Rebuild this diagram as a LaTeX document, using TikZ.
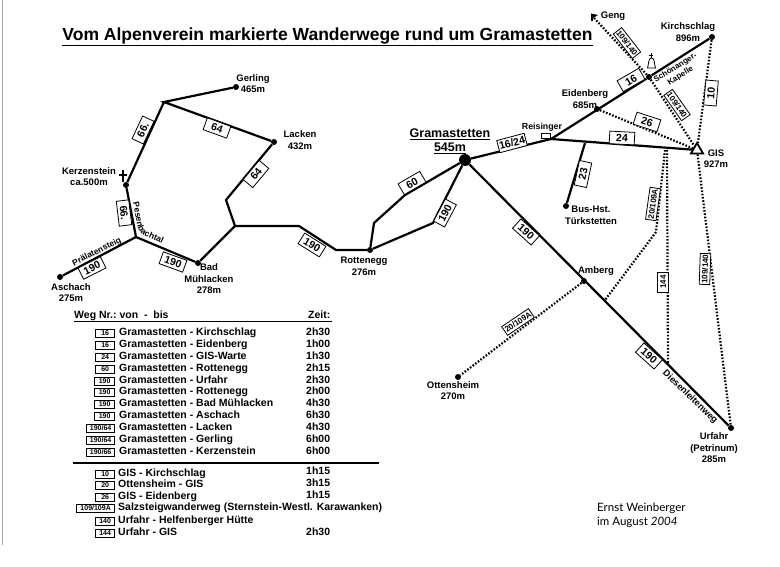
\documentclass[tikz,border=0pt]{standalone}
\usepackage{fontspec}
\setmainfont{Liberation Sans}
\newfontfamily\signfont{Lato}
\usetikzlibrary{shapes.geometric}
\usetikzlibrary{decorations.text}

\tikzset{
  stop/.style={circle, fill=black, inner sep=0pt, minimum size=6pt},
  trail/.style={line width=2.2pt},
  marked/.style={line width=2.2pt, dash pattern=on 1.6pt off 1.7pt},
  wegbox/.style={draw, line width=0.8pt, fill=white, inner sep=1pt, minimum width=25pt, minimum height=12.5pt,
    font=\fontsize{10.5}{11}\selectfont\bfseries},
  thinbox/.style={wegbox, minimum width=20pt, minimum height=10.5pt, inner sep=1pt, font=\fontsize{8}{9}\selectfont\bfseries},
  place/.style={align=center, inner sep=0pt, font=\fontsize{9.5}{11.5}\selectfont\bfseries},
  tabnum/.style={draw, line width=0.7pt, anchor=east, inner sep=0pt, minimum height=8pt,
    font=\fontsize{7}{8}\selectfont\bfseries},
  tabtxt/.style={anchor=west, inner sep=0pt, text height=7.5pt, text depth=2pt,
    font=\fontsize{10.5}{11}\selectfont\bfseries}
}

\begin{document}
\begin{tikzpicture}[x=1pt, y=-1pt]

  \useasboundingbox (0,0) rectangle (780,567);
  \draw [gray!70, line width=1pt] (2,0) -- (2,545);

  \node [inner sep=0pt, font=\fontsize{17.5}{20}\selectfont\bfseries] (title) at (327.5,37)
        {\underline{Vom Alpenverein markierte Wanderwege rund um Gramastetten}};

  \node [stop, minimum size=12pt] (gramastetten) at (465,160) {};
  \node [stop] (gerling) at (236,87) {};
  \node [stop] (lacken) at (274,142) {};
  \node [stop] (kerzenstein) at (126,185) {};
  \node [stop] (aschach) at (60,277) {};
  \node [stop] (muehlacken) at (198,263) {};
  \node [stop] (rottenegg) at (370,250) {};
  \node [stop] (eidenberg) at (597,109) {};
  \node [stop] (kapelle) at (649,77) {};
  \node [stop] (kirchschlag) at (712,37) {};
  \node [stop] (bus) at (566,206) {};
  \node [stop] (amberg) at (584,281) {};
  \node [stop] (ottensheim) at (458,377) {};
  \node [stop] (urfahr) at (731,428) {};
  \node [draw, fill=white, line width=1.8pt, regular polygon, regular polygon sides=3,
         inner sep=0pt, minimum size=14pt] (gis) at (697,150) {};

  \coordinate (reisinger) at (551,139);
  \coordinate (abzweig) at (585,143);
  \coordinate (gabel) at (667,150);
  \coordinate (gabelb) at (665,150);
  \coordinate (knick) at (656,232);
  \coordinate (ambergb) at (605,300);
  \coordinate (diesen) at (668,363);
  \coordinate (geng) at (594,18);
  \coordinate (rotta) at (405,195);
  \coordinate (rottb) at (374,223);
  \coordinate (rottc) at (433,223);
  \coordinate (westa) at (336,250);
  \coordinate (westb) at (299,226);
  \coordinate (westc) at (235,226);
  \coordinate (westd) at (226,200);
  \coordinate (oben) at (164,102);
  \coordinate (unten) at (136,237);

  \draw [marked] (geng) -- (kapelle) -- (gis);
  \draw [marked] (eidenberg) -- (gis);
  \draw [marked] (kirchschlag) -- (gis);
  \draw [marked] (gis) -- (urfahr);
  \draw [marked] (gabel) -- (diesen);
  \draw [marked] (gabelb) -- (knick) -- (ambergb);
  \draw [marked] (amberg) -- (ottensheim);

  \draw [trail] (gramastetten) -- (reisinger) -- (kapelle) -- (kirchschlag);
  \draw [trail] (reisinger) -- (gis);
  \draw [trail] (abzweig) -- (bus);
  \draw [trail] (gramastetten) -- (urfahr);
  \draw [trail] (gramastetten) -- (rotta) -- (rottb) -- (rottenegg);
  \draw [trail] (gramastetten) -- (rottc) -- (rottenegg);
  \draw [trail] (rottenegg) -- (westa) -- (westb) -- (westc) -- (muehlacken);
  \draw [trail] (westc) -- (westd) -- (lacken) -- (oben) -- (gerling);
  \draw [trail] (oben) -- (kerzenstein) -- (unten) -- (muehlacken);
  \draw [trail] (unten) -- (aschach);

  \draw [line width=1.8pt] (123,170) -- (123,182) (119,175) -- (127,175);
  \draw [line width=1.3pt] (592,21) -- (592,14);
  \fill (591,13.5) -- (598,15) -- (593,18) -- cycle;
  \draw [line width=0.8pt] (651,53) -- (651,58) (649,55) -- (653,55);
  \draw [line width=0.8pt, fill=white] (647.5,68) -- (655.5,68) .. controls (654,64) and (655,58) .. (651.5,58)
        .. controls (648,58) and (649,64) .. (647.5,68) -- cycle;
  \draw [line width=0.7pt, fill=white] (541.5,133) rectangle (550.5,138);

  \node [wegbox, rotate=65] (w66a) at (143,130) {66.};
  \node [wegbox, rotate=-20] (w64a) at (217,128) {64};
  \node [wegbox, rotate=50] (w64b) at (256,174) {64};
  \node [wegbox, rotate=-83] (w66b) at (124,213) {66.};
  \node [wegbox, rotate=27] (w190a) at (92,268) {190};
  \node [wegbox, rotate=-20] (w190b) at (173,262) {190};
  \node [wegbox, rotate=-32] (w190c) at (312,245) {190};
  \node [wegbox, rotate=62] (w190d) at (445,213) {190};
  \node [wegbox, rotate=30] (w60) at (412,183) {60};
  \node [wegbox, rotate=-42] (w190e) at (526,232) {190};
  \node [wegbox, rotate=-42] (w190f) at (649,356) {190};
  \node [wegbox, rotate=15] (w1624) at (512,143) {16/24};
  \node [wegbox, rotate=30] (w16) at (631,80) {16};
  \node [wegbox, rotate=-18] (w26) at (647,122) {26};
  \node [wegbox, rotate=-3] (w24) at (622,138) {24};
  \node [wegbox, rotate=78] (w23) at (583,174) {23};
  \node [wegbox, rotate=85] (w10) at (711,93) {10};
  \node [thinbox, rotate=-52] (w109a) at (627,43) {109/140};
  \node [thinbox, rotate=-55] (w109b) at (677,105) {109/140};
  \node [thinbox, rotate=88] (w109c) at (705,269) {109/140};
  \node [thinbox, rotate=82] (w20a) at (653,204) {20/109A};
  \node [thinbox, rotate=90] (w144) at (663,282) {144};
  \node [thinbox, rotate=34] (w20b) at (518,322) {20/109A};

  \node [place] (lgerling) at (253,83.5) {Gerling\\465m};
  \node [place] (llacken) at (300,140) {Lacken\\432m};
  \node [place] (lkerzen) at (89,176.5) {Kerzenstein\\ca.500m};
  \node [place] (laschach) at (71,292.5) {Aschach\\275m};
  \node [place] (lmuehl) at (209,279) {Bad\\Mühlacken\\278m};
  \node [place] (lrott) at (364,266.5) {Rottenegg\\276m};
  \node [place, font=\fontsize{8.8}{10}\selectfont\bfseries] (lreis) at (542,127) {Reisinger};
  \node [place] (leiden) at (585,99) {Eidenberg\\685m};
  \node [place] (lkirch) at (688,32) {Kirchschlag\\896m};
  \node [place] (lgeng) at (613,16) {Geng};
  \node [place] (lgis) at (716,158.5) {GIS\\927m};
  \node [place] (lbus) at (591,215.5) {Bus-Hst.\\Türkstetten};
  \node [place] (lamberg) at (596,271) {Amberg};
  \node [place] (lotten) at (453,390.5) {Ottensheim\\270m};
  \node [place] (lurfahr) at (714,448) {Urfahr\\(Petrinum)\\285m};
  \node [place, font=\fontsize{12.5}{14}\selectfont\bfseries] (lgrama) at (450,141)
        {\underline{Gramastetten}\\\underline{545m}};
  \node [place, font=\fontsize{8}{9.5}\selectfont\bfseries, rotate=32] (lkapelle) at (678,72)
        {Schönanger-\\Kapelle};
  \node [place, font=\fontsize{8.5}{10}\selectfont\bfseries, rotate=27] (lpraelat) at (97,252) {Prälatensteig};
  \node [place, font=\fontsize{9.2}{10}\selectfont\bfseries, rotate=-44] (ldiesen) at (690,397) {Diesenleitenweg};
  \path [decorate, decoration={text along path, text align=left,
        text={|\fontsize{8.5}{10}\selectfont\bfseries|Pesenbachtal}}]
        (133,203) -- (137,224) .. controls (138.5,231) and (140,233) .. (146,236) -- (172,248);

  \node [tabtxt] (hweg) at (74,316) {Weg Nr.:\ von\ \ -\ \ bis};
  \node [tabtxt] (hzeit) at (308,316) {Zeit:};
  \draw [line width=1pt] (74,321.5) -- (332,321.5);

  \node [tabnum, minimum width=19pt] (n1) at (115,333) {16};
  \node [tabtxt] (t1) at (119,333) {Gramastetten - Kirchschlag};
  \node [tabtxt] (z1) at (306,333) {2h30};
  \node [tabnum, minimum width=19pt] (n2) at (115,345) {16};
  \node [tabtxt] (t2) at (119,345) {Gramastetten - Eidenberg};
  \node [tabtxt] (z2) at (306,345) {1h00};
  \node [tabnum, minimum width=19pt] (n3) at (115,357) {24};
  \node [tabtxt] (t3) at (119,357) {Gramastetten - GIS-Warte};
  \node [tabtxt] (z3) at (306,357) {1h30};
  \node [tabnum, minimum width=19pt] (n4) at (115,369) {60};
  \node [tabtxt] (t4) at (119,369) {Gramastetten - Rottenegg};
  \node [tabtxt] (z4) at (306,369) {2h15};
  \node [tabnum, minimum width=20pt] (n5) at (115,381) {190};
  \node [tabtxt] (t5) at (119,381) {Gramastetten - Urfahr};
  \node [tabtxt] (z5) at (306,381) {2h30};
  \node [tabnum, minimum width=20pt] (n6) at (115,392) {190};
  \node [tabtxt] (t6) at (119,392) {Gramastetten - Rottenegg};
  \node [tabtxt] (z6) at (306,392) {2h00};
  \node [tabnum, minimum width=20pt] (n7) at (115,404) {190};
  \node [tabtxt] (t7) at (119,404) {Gramastetten - Bad Mühlacken};
  \node [tabtxt] (z7) at (306,404) {4h30};
  \node [tabnum, minimum width=20pt] (n8) at (115,416) {190};
  \node [tabtxt] (t8) at (119,416) {Gramastetten - Aschach};
  \node [tabtxt] (z8) at (306,416) {6h30};
  \node [tabnum, minimum width=28pt] (n9) at (115,428) {190/64};
  \node [tabtxt] (t9) at (119,428) {Gramastetten - Lacken};
  \node [tabtxt] (z9) at (306,428) {4h30};
  \node [tabnum, minimum width=28pt] (n10) at (115,440) {190/64};
  \node [tabtxt] (t10) at (119,440) {Gramastetten - Gerling};
  \node [tabtxt] (z10) at (306,440) {6h00};
  \node [tabnum, minimum width=28pt] (n11) at (115,452) {190/66};
  \node [tabtxt] (t11) at (119,452) {Gramastetten - Kerzenstein};
  \node [tabtxt] (z11) at (306,452) {6h00};

  \draw [line width=2pt] (73,463) -- (379,463);

  \node [tabnum, minimum width=19pt] (n12) at (115,474) {10};
  \node [tabtxt] (t12) at (118,474) {GIS - Kirchschlag};
  \node [tabtxt] (z12) at (306,472) {1h15};
  \node [tabnum, minimum width=19pt] (n13) at (115,485) {20};
  \node [tabtxt] (t13) at (118,485) {Ottensheim - GIS};
  \node [tabtxt] (z13) at (306,484) {3h15};
  \node [tabnum, minimum width=19pt] (n14) at (115,497) {26};
  \node [tabtxt] (t14) at (118,497) {GIS - Eidenberg};
  \node [tabtxt] (z14) at (306,496) {1h15};
  \node [tabnum, minimum width=38pt] (n15) at (115,508) {109/109A};
  \node [tabtxt] (t15) at (118,508) {Salzsteigwanderweg (Sternstein-Westl. Karawanken)};
  \node [tabnum, minimum width=19pt] (n16) at (115,521) {140};
  \node [tabtxt] (t16) at (118,521) {Urfahr - Helfenberger Hütte};
  \node [tabnum, minimum width=19pt] (n17) at (115,533) {144};
  \node [tabtxt] (t17) at (118,533) {Urfahr - GIS};
  \node [tabtxt] (z17) at (306,533) {2h30};

  \node [anchor=west, align=left, inner sep=0pt, font=\fontsize{11.5}{14}\selectfont\signfont] (sign)
        at (597,515) {Ernst Weinberger\\im August \textit{2004}};

\end{tikzpicture}
\end{document}
